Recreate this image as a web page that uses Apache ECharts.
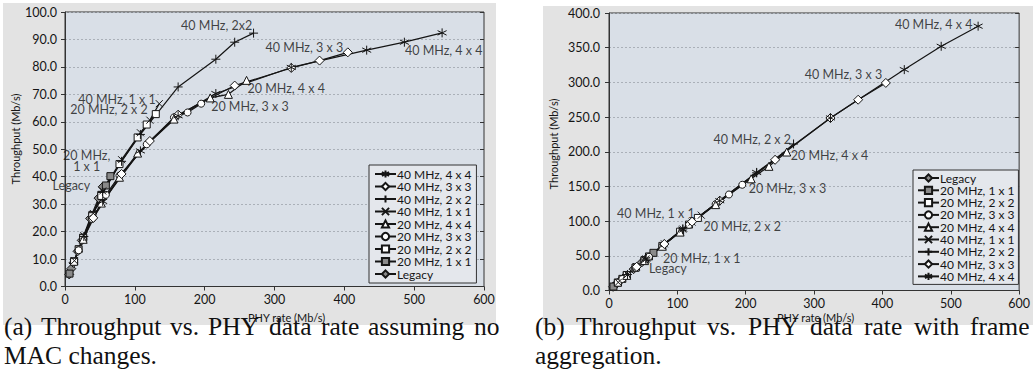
<!DOCTYPE html>
<html><head><meta charset="utf-8">
<script src="https://cdn.jsdelivr.net/npm/echarts@6/dist/echarts.min.js"></script>
<style>
html,body{margin:0;padding:0;background:#fff;}
#wrap{position:relative;width:1033px;height:382px;overflow:hidden;}
.panel{position:absolute;background:#e3e3e3;}
#c{position:absolute;left:0;top:0;width:1033px;height:382px;}
</style>
</head><body><div id="wrap">
<div class="panel" style="left:3px;top:3px;width:493px;height:322px"></div>
<div class="panel" style="left:543px;top:6px;width:490px;height:319px"></div>
<div id="c"></div></div>
<script>
// ---------- DATA ----------
const names = ['Legacy','20 MHz, 1 x 1','20 MHz, 2 x 2','20 MHz, 3 x 3','20 MHz, 4 x 4',
               '40 MHz, 1 x 1','40 MHz, 2 x 2','40 MHz, 3 x 3','40 MHz, 4 x 4'];
// PHY rates (Mb/s)
const phyLegacy = [6, 9, 12, 18, 24, 36, 48, 54];
const phy20x1 = [6.5, 13, 19.5, 26, 39, 52, 58.5, 65];
const phy20x2 = [13, 26, 39, 52, 78, 104, 117, 130];
const phy20x3 = [19.5, 39, 58.5, 78, 117, 156, 175.5, 195];
const phy20x4 = [26, 52, 78, 104, 156, 208, 234, 260];
const phy40x1 = [13.5, 27, 40.5, 54, 81, 108, 121.5, 135];
const phy40x2 = [27, 54, 81, 108, 162, 216, 243, 270];
const phy40x3 = [40.5, 81, 121.5, 162, 243, 324, 364.5, 405];
const phy40x4 = [54, 108, 162, 216, 324, 432, 486, 540];
// (a) throughput, no MAC changes (Mb/s)
const tputA_legacy = [4.4, 6.5, 8.6, 12.8, 16.8, 24.8, 32.2, 36.3];
const tputA_20x1 = [4.7, 9.2, 13.6, 17.8, 26.0, 33.4, 36.8, 40.2];
const tputA_20x2 = [9.0, 17.6, 25.6, 33.0, 44.6, 54.3, 59.0, 62.8];
const tputA_20x3 = [13.2, 24.6, 33.4, 40.4, 51.8, 61.6, 63.4, 66.6];
const tputA_20x4 = [17.2, 30.4, 39.8, 48.6, 61.0, 68.7, 70.0, 75.1];
const tputA_40x1 = [9.4, 18.5, 26.6, 34.8, 46.2, 56.0, 60.6, 66.6];
const tputA_40x2 = [18.2, 34.4, 45.6, 55.4, 72.7, 82.8, 89.0, 92.3];
const tputA_40x3 = [25.0, 41.0, 53.0, 62.6, 73.2, 79.6, 82.3, 85.3];
const tputA_40x4 = [31.0, 49.4, 62.2, 70.3, 79.8, 86.1, 89.0, 92.4];
// (b) throughput with frame aggregation (Mb/s)
const tputB_legacy = [5.3, 7.9, 10.5, 15.6, 20.7, 30.8, 40.6, 45.4];
const tputB_20x1 = [5.7, 11.3, 16.8, 22.3, 33.2, 43.8, 49.1, 54.3];
const tputB_20x2 = [11.2, 22.1, 32.9, 43.5, 64.3, 84.8, 95.0, 104.6];
const tputB_20x3 = [16.6, 32.7, 48.6, 64.0, 94.6, 124.4, 138.4, 152.4];
const tputB_20x4 = [21.8, 43.1, 63.8, 84.2, 123.8, 161.0, 179.0, 199.6];
const tputB_40x1 = [11.7, 23.1, 34.4, 45.5, 67.3, 88.6, 98.6, 108.6];
const tputB_40x2 = [23.0, 45.3, 67.2, 88.7, 129.6, 169.6, 188.6, 211.2];
const tputB_40x3 = [34.2, 67.0, 99.2, 129.4, 188.4, 248.6, 275.0, 299.2];
const tputB_40x4 = [45.2, 88.4, 129.4, 170.2, 248.8, 318.4, 352.0, 381.0];
// axis ticks
const xTicks = [0, 100, 200, 300, 400, 500, 600];
const yTicksA = [0, 10, 20, 30, 40, 50, 60, 70, 80, 90, 100];
const yTicksB = [0, 50, 100, 150, 200, 250, 300, 350, 400];
// annotations [text, x, y, align]
const annotA = [
  ['40 MHz, 2x2', 167, 95, 'left'],
  ['40 MHz, 3 x 3', 288, 87, 'left'],
  ['40 MHz, 4 x 4', 487.5, 85.8, 'left'],
  ['20 MHz, 4 x 4', 262, 72, 'left'],
  ['20 MHz, 3 x 3', 210, 65.5, 'left'],
  ['40 MHz, 1 x 1', 19.6, 68, 'left'],
  ['20 MHz, 2 x 2', 8.2, 64.4, 'left'],
  ['20 MHz,\n1 x 1', 31.8, 45.6, 'center'],
  ['Legacy', 36.9, 36.7, 'right']
];
const annotB = [
  ['40 MHz, 4 x 4', 419, 383, 'left'],
  ['40 MHz, 3 x 3', 287, 311, 'left'],
  ['40 MHz, 2 x 2', 153.6, 217, 'left'],
  ['20 MHz, 4 x 4', 266.7, 194, 'left'],
  ['20 MHz, 3 x 3', 205, 146.6, 'left'],
  ['20 MHz, 2 x 2', 139, 91.7, 'left'],
  ['40 MHz, 1 x 1', 12.6, 110.5, 'left'],
  ['20 MHz, 1 x 1', 79.7, 45.5, 'left'],
  ['Legacy', 59.4, 30.3, 'left']
];
const legendA = ['40 MHz, 4 x 4','40 MHz, 3 x 3','40 MHz, 2 x 2','40 MHz, 1 x 1','20 MHz, 4 x 4','20 MHz, 3 x 3','20 MHz, 2 x 2','20 MHz, 1 x 1','Legacy'];
const legendB = ['Legacy','20 MHz, 1 x 1','20 MHz, 2 x 2','20 MHz, 3 x 3','20 MHz, 4 x 4','40 MHz, 1 x 1','40 MHz, 2 x 2','40 MHz, 3 x 3','40 MHz, 4 x 4'];

// ---------- STYLE ----------
const FONT = 'Lato';
const INK = '#151515';
const phyList = [phyLegacy, phy20x1, phy20x2, phy20x3, phy20x4, phy40x1, phy40x2, phy40x3, phy40x4];
const tputAList = [tputA_legacy, tputA_20x1, tputA_20x2, tputA_20x3, tputA_20x4, tputA_40x1, tputA_40x2, tputA_40x3, tputA_40x4];
const tputBList = [tputB_legacy, tputB_20x1, tputB_20x2, tputB_20x3, tputB_20x4, tputB_40x1, tputB_40x2, tputB_40x3, tputB_40x4];
const P_CROSS = 'path://M0,0L10,10M0,10L10,0';
const P_PLUS = 'path://M5,0L5,10M0,5L10,5';
const P_STAR = 'path://M5,0L5,10M0.7,2.5L9.3,7.5M0.7,7.5L9.3,2.5';
const symStyle = [
  ['diamond', 9, '#8a8a8a'],
  ['rect', 7, '#8a8a8a'],
  ['rect', 7, '#ffffff'],
  ['circle', 7, '#ffffff'],
  ['triangle', 8, '#ffffff'],
  [P_CROSS, 7, '#ffffff'],
  [P_PLUS, 9, '#ffffff'],
  ['diamond', 9, '#ffffff'],
  [P_STAR, 9, '#ffffff']
];

function makeSeries(list, xi, yi) {
  return names.map((n, i) => ({
    name: n, type: 'line', xAxisIndex: xi, yAxisIndex: yi,
    data: phyList[i].map((x, k) => [x, list[i][k]]),
    symbol: symStyle[i][0], symbolSize: symStyle[i][1], showAllSymbol: true,
    itemStyle: { color: symStyle[i][2], borderColor: INK, borderWidth: 1 },
    lineStyle: { color: INK, width: 1.2 },
    emphasis: { disabled: true }, silent: true, z: 3
  }));
}
function annotSeries(list, xi, yi) {
  return {
    type: 'scatter', xAxisIndex: xi, yAxisIndex: yi, silent: true, clip: false,
    symbol: 'circle', symbolSize: 1, itemStyle: { color: 'rgba(0,0,0,0)' }, z: 5,
    data: list.map(a => ({ value: [a[1], a[2]], name: a[0], label: { align: a[3] } })),
    label: { show: true, position: [0, 0], formatter: '{b}', verticalAlign: 'middle',
             fontFamily: FONT, fontSize: 12.5, color: INK, lineHeight: 11 }
  };
}
const axisCommon = {
  axisLine: { show: true, lineStyle: { color: '#333', width: 1 } },
  axisTick: { show: true, length: 4, lineStyle: { color: '#333' } },
  axisLabel: { fontFamily: FONT, fontSize: 12.5, color: INK },
  splitLine: { show: false }
};
function xAx(gi) {
  return Object.assign({}, axisCommon, { type: 'value', gridIndex: gi, min: xTicks[0], max: xTicks[xTicks.length-1],
    interval: xTicks[1]-xTicks[0], axisLabel: Object.assign({}, axisCommon.axisLabel, { margin: 6 }) });
}
function yAx(gi, ticks, margin) {
  return Object.assign({}, axisCommon, { type: 'value', gridIndex: gi, min: ticks[0], max: ticks[ticks.length-1],
    interval: ticks[1]-ticks[0],
    axisLabel: Object.assign({}, axisCommon.axisLabel, { margin: margin, formatter: v => v.toFixed(1) }),
    splitLine: { show: true, lineStyle: { color: '#aab0b8', type: [2, 2], width: 1 } } });
}
function yAxRight(gi, ticks) {
  return { type: 'value', gridIndex: gi, position: 'right', min: ticks[0], max: ticks[ticks.length-1],
    interval: ticks[1]-ticks[0], axisLine: { show: false }, axisLabel: { show: false }, splitLine: { show: false },
    axisTick: { show: true, inside: true, length: 4, lineStyle: { color: '#333' } } };
}
function legendOf(data, left, top, padding, gap) {
  return { data: data, orient: 'vertical', left: left, top: top, padding: padding, itemGap: gap,
    itemWidth: 21, itemHeight: 9, selectedMode: false, backgroundColor: '#e4e7ec',
    borderColor: '#333', borderWidth: 1, borderRadius: 0,
    textStyle: { fontFamily: FONT, fontSize: 12, lineHeight: 12, height: 12, color: INK, padding: [0, 0, 0, -4] } };
}
const CAP_FONT = 25.5;
function words(list, y) {
  return list.map(w => ({ type: 'text', left: w[1], top: y,
    style: { text: w[0], fontFamily: 'Liberation Serif', fontSize: CAP_FONT, fill: '#111' } }));
}
const capA1 = [['(a)', 4], ['Throughput', 41], ['vs.', 170], ['PHY', 208], ['data', 269], ['rate', 321], ['assuming', 368], ['no', 474]];
const capA2 = [['MAC changes.', 4]];
const capB1 = [['(b)', 535], ['Throughput', 576], ['vs.', 707], ['PHY', 748], ['data', 810], ['rate', 864], ['with', 914], ['frame', 970]];
const capB2 = [['aggregation.', 535]];

const option = {
  backgroundColor: 'transparent', animation: false,
  grid: [
    { left: 65, top: 12, width: 419, height: 274.5, show: true, backgroundColor: '#d9dfe7', borderColor: '#333', borderWidth: 1 },
    { left: 609, top: 13, width: 414, height: 277.5, show: true, backgroundColor: '#d9dfe7', borderColor: '#333', borderWidth: 1 }
  ],
  xAxis: [xAx(0), xAx(1)],
  yAxis: [yAx(0, yTicksA, 8), yAxRight(0, yTicksA), yAx(1, yTicksB, 9), yAxRight(1, yTicksB)],
  legend: [legendOf(legendA, 369, 165, [3, 5, 3, 5], 0.5), legendOf(legendB, 913, 170, [2, 4, 2, 4], 0.3)],
  series: [].concat(makeSeries(tputAList, 0, 0), makeSeries(tputBList, 1, 2),
                    [annotSeries(annotA, 0, 0), annotSeries(annotB, 1, 2)]),
  graphic: [
    { type: 'text', left: 248, top: 312, style: { text: 'PHY rate (Mb/s)', fontFamily: FONT, fontSize: 11, fill: INK } },
    { type: 'text', left: 777, top: 312, style: { text: 'PHY rate (Mb/s)', fontFamily: FONT, fontSize: 11, fill: INK } },
    { type: 'text', x: 15, y: 139, rotation: Math.PI / 2, style: { text: 'Throughput (Mb/s)', fontFamily: FONT, fontSize: 11, fill: INK, align: 'center', verticalAlign: 'middle' } },
    { type: 'text', x: 553, y: 144, rotation: Math.PI / 2, style: { text: 'Throughput (Mb/s)', fontFamily: FONT, fontSize: 11, fill: INK, align: 'center', verticalAlign: 'middle' } }
  ].concat(words(capA1, 313), words(capA2, 342), words(capB1, 313), words(capB2, 342))
};
const chart = echarts.init(document.getElementById('c'), null, { renderer: 'svg', width: 1033, height: 382 });
chart.setOption(option);
</script>
</body></html>
